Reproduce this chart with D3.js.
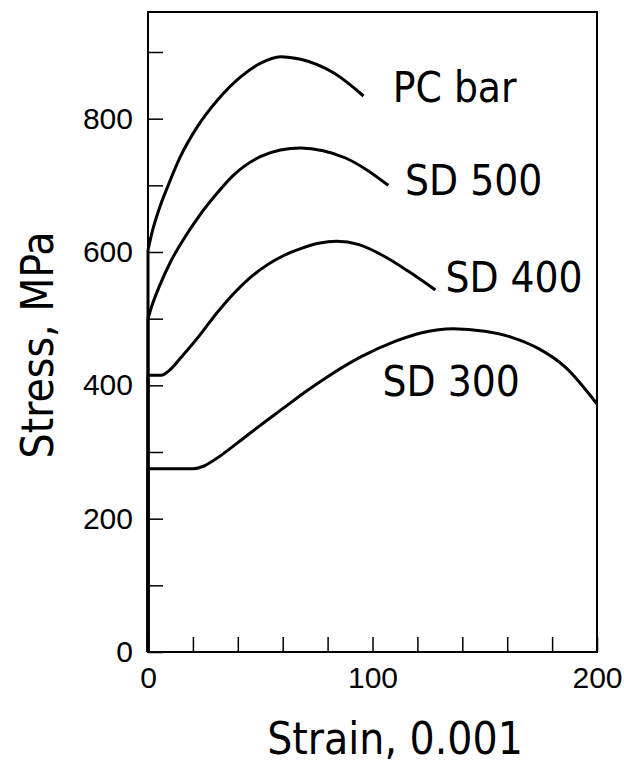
<!DOCTYPE html>
<html>
<head>
<meta charset="utf-8">
<script src="https://cdn.jsdelivr.net/npm/d3@7"></script>
<style>
  body { margin: 0; background: #fff; }
  .tick text { font-family: "Liberation Sans", Arial, sans-serif; font-size: 30px; fill: #000; }
  .tick line { stroke: #000; stroke-width: 1.5; }
  .title, .curve-label { font-family: "DejaVu Sans Condensed", "DejaVu Sans", sans-serif; fill: #000; }
</style>
</head>
<body>
<svg id="chart" width="624" height="765"></svg>
<script>
// strain in units of 0.001, stress in MPa
var pcBarStrain = [0, 2, 5, 9, 14, 22, 31, 41, 50, 59, 68, 83, 96]
var pcBarStress = [603, 632, 665, 700, 740, 788, 828, 862, 883, 893, 889, 868, 834]

var sd500Strain = [0, 2, 5, 10, 16, 23, 30, 38, 50, 59, 68, 78, 88, 98, 107]
var sd500Stress = [500, 522, 548, 585, 620, 655, 685, 715, 743, 753, 756, 752, 741, 722, 700]

var sd400Strain = [0, 6, 9, 15, 23, 31, 45, 60, 68, 76, 84, 94, 105, 116, 128]
var sd400Stress = [415, 415, 421, 443, 475, 510, 560, 594, 605, 613, 616, 611, 594, 571, 543]

var sd300Strain = [0, 20, 25, 30, 40, 50, 60, 70, 80, 95, 110, 122, 136, 150, 162, 174, 186, 200]
var sd300Stress = [275, 275, 279, 289, 314, 340, 365, 390, 413, 443, 466, 479, 485, 481, 472, 455, 427, 372]

var seriesNames = ["PC bar", "SD 500", "SD 400", "SD 300"]
var xTicks = d3.range(0, 201, 20)
var yTicks = d3.range(0, 901, 100)

var dimensions = {
    width: 624,
    height: 765,
    margin: { top: 12, bottom: 113, right: 27, left: 148 }
}
dimensions.boundedWidth = dimensions.width - dimensions.margin.left - dimensions.margin.right
dimensions.boundedHeight = dimensions.height - dimensions.margin.top - dimensions.margin.bottom

var svg = d3.select("#chart")

var xScale = d3.scaleLinear()
    .domain([0, 200])
    .range([dimensions.margin.left, dimensions.margin.left + dimensions.boundedWidth])

var yScale = d3.scaleLinear()
    .domain([0, 960])
    .range([dimensions.margin.top + dimensions.boundedHeight, dimensions.margin.top])

// axes, ticks pointing inward
svg.append("g")
    .attr("transform", "translate(0," + yScale(0) + ")")
    .call(d3.axisBottom(xScale)
        .tickValues(xTicks)
        .tickSize(-15)
        .tickPadding(15)
        .tickFormat(d => d % 100 === 0 ? d : ""))
    .call(g => g.select(".domain").remove())

svg.append("g")
    .attr("transform", "translate(" + xScale(0) + ",0)")
    .call(d3.axisLeft(yScale)
        .tickValues(yTicks)
        .tickSize(-15)
        .tickPadding(15)
        .tickFormat(d => d % 200 === 0 ? d : ""))
    .call(g => g.select(".domain").remove())

// frame
svg.append("rect")
    .attr("x", xScale(0))
    .attr("y", yScale(960))
    .attr("width", xScale(200) - xScale(0))
    .attr("height", yScale(0) - yScale(960))
    .attr("fill", "none")
    .attr("stroke", "#000")
    .attr("stroke-width", 2)

var series = [
    { name: seriesNames[0], strain: pcBarStrain, stress: pcBarStress, label: [109, 825] },
    { name: seriesNames[1], strain: sd500Strain, stress: sd500Stress, label: [114.5, 686] },
    { name: seriesNames[2], strain: sd400Strain, stress: sd400Stress, label: [132.5, 540] },
    { name: seriesNames[3], strain: sd300Strain, stress: sd300Stress, label: [104.5, 384] }
]

var line = d3.line()
    .x(d => xScale(d[0]))
    .y(d => yScale(d[1]))
    .curve(d3.curveMonotoneX)

series.forEach(function (s) {
    var pts = s.strain.map((v, i) => [v, s.stress[i]])

    // elastic part along the axis
    svg.append("line")
        .attr("x1", xScale(0)).attr("y1", yScale(0))
        .attr("x2", xScale(0)).attr("y2", yScale(s.stress[0]))
        .attr("stroke", "#000")
        .attr("stroke-width", 3)

    svg.append("path")
        .datum(pts)
        .attr("d", line)
        .attr("fill", "none")
        .attr("stroke", "#000")
        .attr("stroke-width", 3)

    svg.append("text")
        .attr("class", "curve-label")
        .attr("x", xScale(s.label[0]))
        .attr("y", yScale(s.label[1]))
        .style("font-size", "42px")
        .text(s.name)
})

//axis titles
svg.append("text")
    .attr("class", "title")
    .attr("transform", "translate(395,754)")
    .style("text-anchor", "middle")
    .style("font-size", "44px")
    .text("Strain, 0.001")

svg.append("text")
    .attr("class", "title")
    .attr("transform", "translate(53,345) rotate(-90)")
    .style("text-anchor", "middle")
    .style("font-size", "44px")
    .text("Stress, MPa")
</script>
</body>
</html>
